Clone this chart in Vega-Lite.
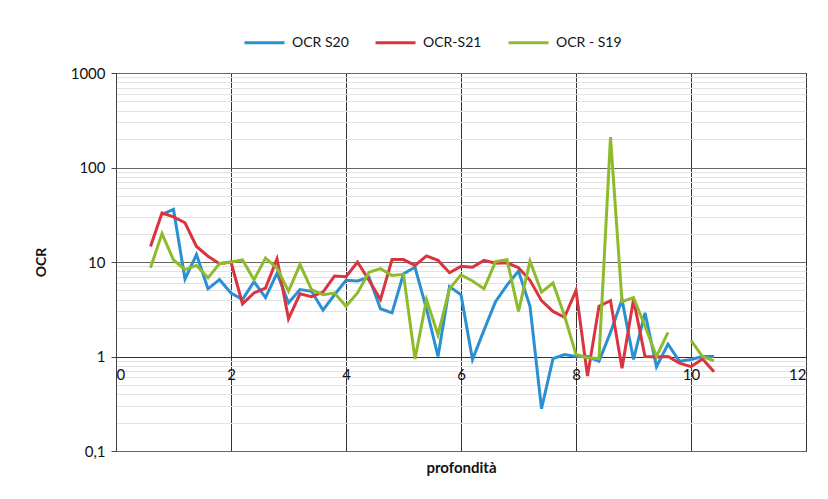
{
  "$schema": "https://vega.github.io/schema/vega-lite/v6.json",
  "width": 690,
  "height": 378,
  "autosize": {"type": "none"},
  "padding": {"left": 116, "top": 73, "right": 22, "bottom": 48},
  "background": "white",
  "config": {
    "view": {"stroke": "#444", "strokeWidth": 1},
    "font": "Lato",
    "axis": {"labelFont": "Lato", "titleFont": "Lato"},
    "legend": {"labelFont": "Lato"}
  },
  "data": {
    "values": [
      {"d": 0.8, "s": "OCR S20", "v": 32},
      {"d": 1.0, "s": "OCR S20", "v": 36},
      {"d": 1.2, "s": "OCR S20", "v": 6.6},
      {"d": 1.4, "s": "OCR S20", "v": 12},
      {"d": 1.6, "s": "OCR S20", "v": 5.2},
      {"d": 1.8, "s": "OCR S20", "v": 6.5},
      {"d": 2.0, "s": "OCR S20", "v": 4.7},
      {"d": 2.2, "s": "OCR S20", "v": 4.0},
      {"d": 2.4, "s": "OCR S20", "v": 6.2},
      {"d": 2.6, "s": "OCR S20", "v": 4.2},
      {"d": 2.8, "s": "OCR S20", "v": 7.6},
      {"d": 3.0, "s": "OCR S20", "v": 3.7},
      {"d": 3.2, "s": "OCR S20", "v": 5.1},
      {"d": 3.4, "s": "OCR S20", "v": 4.9},
      {"d": 3.6, "s": "OCR S20", "v": 3.1},
      {"d": 3.8, "s": "OCR S20", "v": 4.5},
      {"d": 4.0, "s": "OCR S20", "v": 6.4},
      {"d": 4.2, "s": "OCR S20", "v": 6.3},
      {"d": 4.4, "s": "OCR S20", "v": 6.9},
      {"d": 4.6, "s": "OCR S20", "v": 3.2},
      {"d": 4.8, "s": "OCR S20", "v": 2.9},
      {"d": 5.0, "s": "OCR S20", "v": 7.5},
      {"d": 5.2, "s": "OCR S20", "v": 8.8},
      {"d": 5.4, "s": "OCR S20", "v": 3.2},
      {"d": 5.6, "s": "OCR S20", "v": 1.0},
      {"d": 5.8, "s": "OCR S20", "v": 5.5},
      {"d": 6.0, "s": "OCR S20", "v": 4.5},
      {"d": 6.2, "s": "OCR S20", "v": 0.93},
      {"d": 6.4, "s": "OCR S20", "v": 1.9},
      {"d": 6.6, "s": "OCR S20", "v": 3.8},
      {"d": 6.8, "s": "OCR S20", "v": 5.7},
      {"d": 7.0, "s": "OCR S20", "v": 8.0},
      {"d": 7.2, "s": "OCR S20", "v": 3.4},
      {"d": 7.4, "s": "OCR S20", "v": 0.28},
      {"d": 7.6, "s": "OCR S20", "v": 0.95},
      {"d": 7.8, "s": "OCR S20", "v": 1.05},
      {"d": 8.0, "s": "OCR S20", "v": 1.0},
      {"d": 8.2, "s": "OCR S20", "v": 1.0},
      {"d": 8.4, "s": "OCR S20", "v": 0.89},
      {"d": 8.6, "s": "OCR S20", "v": 1.8},
      {"d": 8.8, "s": "OCR S20", "v": 4.0},
      {"d": 9.0, "s": "OCR S20", "v": 0.93},
      {"d": 9.2, "s": "OCR S20", "v": 2.9},
      {"d": 9.4, "s": "OCR S20", "v": 0.78},
      {"d": 9.6, "s": "OCR S20", "v": 1.35},
      {"d": 9.8, "s": "OCR S20", "v": 0.89},
      {"d": 10.0, "s": "OCR S20", "v": 0.93},
      {"d": 10.2, "s": "OCR S20", "v": 1.0},
      {"d": 10.4, "s": "OCR S20", "v": 1.0},

      {"d": 0.6, "s": "OCR-S21", "v": 14.6},
      {"d": 0.8, "s": "OCR-S21", "v": 33},
      {"d": 1.0, "s": "OCR-S21", "v": 30},
      {"d": 1.2, "s": "OCR-S21", "v": 26},
      {"d": 1.4, "s": "OCR-S21", "v": 14.6},
      {"d": 1.6, "s": "OCR-S21", "v": 11.5},
      {"d": 1.8, "s": "OCR-S21", "v": 9.6},
      {"d": 2.0, "s": "OCR-S21", "v": 10},
      {"d": 2.2, "s": "OCR-S21", "v": 3.6},
      {"d": 2.4, "s": "OCR-S21", "v": 4.7},
      {"d": 2.6, "s": "OCR-S21", "v": 5.3},
      {"d": 2.8, "s": "OCR-S21", "v": 10.8},
      {"d": 3.0, "s": "OCR-S21", "v": 2.5},
      {"d": 3.2, "s": "OCR-S21", "v": 4.6},
      {"d": 3.4, "s": "OCR-S21", "v": 4.3},
      {"d": 3.6, "s": "OCR-S21", "v": 4.8},
      {"d": 3.8, "s": "OCR-S21", "v": 7.1},
      {"d": 4.0, "s": "OCR-S21", "v": 7.0},
      {"d": 4.2, "s": "OCR-S21", "v": 10},
      {"d": 4.4, "s": "OCR-S21", "v": 6.4},
      {"d": 4.6, "s": "OCR-S21", "v": 4.0},
      {"d": 4.8, "s": "OCR-S21", "v": 10.6},
      {"d": 5.0, "s": "OCR-S21", "v": 10.6},
      {"d": 5.2, "s": "OCR-S21", "v": 9.2},
      {"d": 5.4, "s": "OCR-S21", "v": 11.6},
      {"d": 5.6, "s": "OCR-S21", "v": 10.4},
      {"d": 5.8, "s": "OCR-S21", "v": 7.7},
      {"d": 6.0, "s": "OCR-S21", "v": 9.0},
      {"d": 6.2, "s": "OCR-S21", "v": 8.8},
      {"d": 6.4, "s": "OCR-S21", "v": 10.4},
      {"d": 6.6, "s": "OCR-S21", "v": 9.7},
      {"d": 6.8, "s": "OCR-S21", "v": 9.8},
      {"d": 7.0, "s": "OCR-S21", "v": 8.7},
      {"d": 7.2, "s": "OCR-S21", "v": 6.4},
      {"d": 7.4, "s": "OCR-S21", "v": 3.9},
      {"d": 7.6, "s": "OCR-S21", "v": 3.0},
      {"d": 7.8, "s": "OCR-S21", "v": 2.6},
      {"d": 8.0, "s": "OCR-S21", "v": 5.0},
      {"d": 8.2, "s": "OCR-S21", "v": 0.62},
      {"d": 8.4, "s": "OCR-S21", "v": 3.4},
      {"d": 8.6, "s": "OCR-S21", "v": 3.9},
      {"d": 8.8, "s": "OCR-S21", "v": 0.75},
      {"d": 9.0, "s": "OCR-S21", "v": 4.0},
      {"d": 9.2, "s": "OCR-S21", "v": 1.0},
      {"d": 9.4, "s": "OCR-S21", "v": 0.99},
      {"d": 9.6, "s": "OCR-S21", "v": 1.0},
      {"d": 9.8, "s": "OCR-S21", "v": 0.85},
      {"d": 10.0, "s": "OCR-S21", "v": 0.78},
      {"d": 10.2, "s": "OCR-S21", "v": 0.94},
      {"d": 10.4, "s": "OCR-S21", "v": 0.69},

      {"d": 0.6, "s": "OCR - S19", "v": 8.7},
      {"d": 0.8, "s": "OCR - S19", "v": 20},
      {"d": 1.0, "s": "OCR - S19", "v": 10.5},
      {"d": 1.2, "s": "OCR - S19", "v": 8.3},
      {"d": 1.4, "s": "OCR - S19", "v": 9.2},
      {"d": 1.6, "s": "OCR - S19", "v": 6.8},
      {"d": 1.8, "s": "OCR - S19", "v": 9.6},
      {"d": 2.0, "s": "OCR - S19", "v": 10},
      {"d": 2.2, "s": "OCR - S19", "v": 10.5},
      {"d": 2.4, "s": "OCR - S19", "v": 6.5},
      {"d": 2.6, "s": "OCR - S19", "v": 11},
      {"d": 2.8, "s": "OCR - S19", "v": 8.6},
      {"d": 3.0, "s": "OCR - S19", "v": 4.9},
      {"d": 3.2, "s": "OCR - S19", "v": 9.4},
      {"d": 3.4, "s": "OCR - S19", "v": 5.1},
      {"d": 3.6, "s": "OCR - S19", "v": 4.5},
      {"d": 3.8, "s": "OCR - S19", "v": 4.7},
      {"d": 4.0, "s": "OCR - S19", "v": 3.4},
      {"d": 4.2, "s": "OCR - S19", "v": 4.7},
      {"d": 4.4, "s": "OCR - S19", "v": 7.8},
      {"d": 4.6, "s": "OCR - S19", "v": 8.5},
      {"d": 4.8, "s": "OCR - S19", "v": 7.2},
      {"d": 5.0, "s": "OCR - S19", "v": 7.4},
      {"d": 5.2, "s": "OCR - S19", "v": 0.94},
      {"d": 5.4, "s": "OCR - S19", "v": 4.0},
      {"d": 5.6, "s": "OCR - S19", "v": 1.7},
      {"d": 5.8, "s": "OCR - S19", "v": 5.2},
      {"d": 6.0, "s": "OCR - S19", "v": 7.3},
      {"d": 6.2, "s": "OCR - S19", "v": 6.3},
      {"d": 6.4, "s": "OCR - S19", "v": 5.2},
      {"d": 6.6, "s": "OCR - S19", "v": 10.1},
      {"d": 6.8, "s": "OCR - S19", "v": 10.6},
      {"d": 7.0, "s": "OCR - S19", "v": 3.0},
      {"d": 7.2, "s": "OCR - S19", "v": 10.2},
      {"d": 7.4, "s": "OCR - S19", "v": 4.8},
      {"d": 7.6, "s": "OCR - S19", "v": 6.0},
      {"d": 7.8, "s": "OCR - S19", "v": 2.7},
      {"d": 8.0, "s": "OCR - S19", "v": 1.05},
      {"d": 8.2, "s": "OCR - S19", "v": 0.97},
      {"d": 8.4, "s": "OCR - S19", "v": 0.95},
      {"d": 8.6, "s": "OCR - S19", "v": 210},
      {"d": 8.8, "s": "OCR - S19", "v": 3.8},
      {"d": 9.0, "s": "OCR - S19", "v": 4.2},
      {"d": 9.2, "s": "OCR - S19", "v": 2.1},
      {"d": 9.4, "s": "OCR - S19", "v": 1.0},
      {"d": 9.6, "s": "OCR - S19", "v": 1.8},
      {"d": 9.8, "s": "OCR - S19", "v": null},
      {"d": 10.0, "s": "OCR - S19", "v": 1.48},
      {"d": 10.2, "s": "OCR - S19", "v": 1.0},
      {"d": 10.4, "s": "OCR - S19", "v": 0.9}
    ]
  },
  "mark": {"type": "line", "strokeWidth": 3, "invalid": "break-paths-show-domains"},
  "encoding": {
    "x": {
      "field": "d",
      "type": "quantitative",
      "scale": {"domain": [0, 12], "nice": false, "zero": false},
      "axis": {
        "values": [0, 2, 4, 6, 8, 10, 12],
        "offset": -94,
        "ticks": false,
        "domainColor": "#333",
        "domainWidth": 1.2,
        "gridColor": "#333",
        "gridOpacity": 1,
        "gridWidth": 1,
        "labelFontSize": 15,
        "labelColor": "#111",
        "labelPadding": 10,
        "title": "profondità",
        "titleFontSize": 15,
        "titleFontWeight": "bold",
        "titleColor": "#111",
        "titleBaseline": "middle",
        "titleY": 110
      }
    },
    "y": {
      "field": "v",
      "type": "quantitative",
      "scale": {"type": "log", "domain": [0.1, 1000], "nice": false},
      "axis": {
        "values": [0.1, 0.2, 0.3, 0.4, 0.5, 0.6, 0.7, 0.8, 0.9, 1, 2, 3, 4, 5, 6, 7, 8, 9, 10, 20, 30, 40, 50, 60, 70, 80, 90, 100, 200, 300, 400, 500, 600, 700, 800, 900, 1000],
        "labelExpr": "datum.value == 0.1 ? '0,1' : datum.value == 1 ? '1' : datum.value == 10 ? '10' : datum.value == 100 ? '100' : datum.value == 1000 ? '1000' : ''",
        "labelFontSize": 15,
        "labelColor": "#111",
        "labelPadding": 6,
        "tickSize": 5,
        "tickColor": "#444",
        "tickOpacity": {"condition": {"test": "indexof([0.1, 1, 10, 100, 1000], datum.value) >= 0", "value": 1}, "value": 0},
        "gridColor": {"condition": {"test": "indexof([0.1, 1, 10, 100, 1000], datum.value) >= 0", "value": "#666"}, "value": "#e2e2e2"},
        "gridOpacity": 1,
        "domainColor": "#444",
        "title": "OCR",
        "titleFontSize": 14,
        "titleFontWeight": "bold",
        "titleColor": "#111",
        "titlePadding": 22
      }
    },
    "color": {
      "field": "s",
      "type": "nominal",
      "scale": {
        "domain": ["OCR S20", "OCR-S21", "OCR - S19"],
        "range": ["#2a90d2", "#d9343f", "#8ebb2c"]
      },
      "legend": {
        "title": null,
        "orient": "none",
        "legendX": 127,
        "legendY": -52,
        "direction": "horizontal",
        "symbolType": "stroke",
        "symbolSize": 1600,
        "symbolStrokeWidth": 3,
        "labelFontSize": 14,
        "labelColor": "#111",
        "labelOffset": 6,
        "columnPadding": 20
      }
    }
  }
}
